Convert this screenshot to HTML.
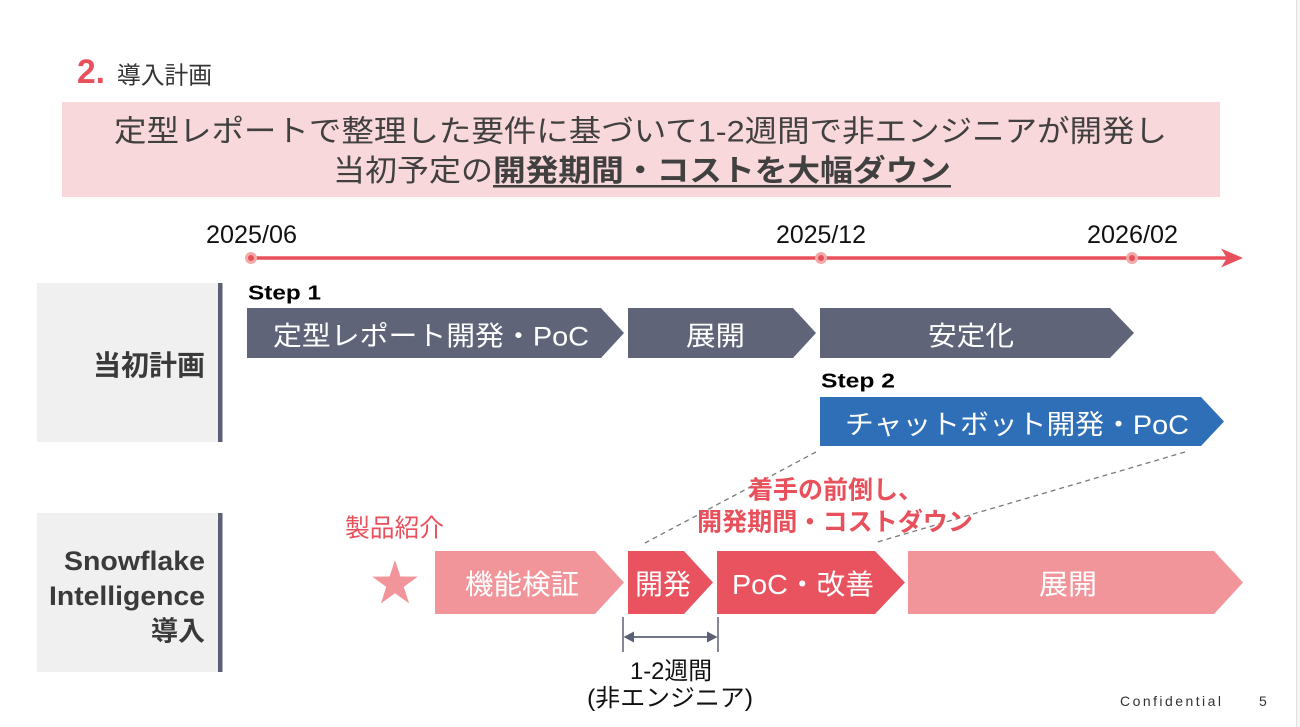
<!DOCTYPE html>
<html><head><meta charset="utf-8"><style>
html,body{margin:0;padding:0;background:#fff;}
svg{display:block;}
text{font-family:"Liberation Sans","Noto Sans CJK JP",sans-serif;}
</style></head><body>
<svg width="1300" height="727" viewBox="0 0 1300 727" xmlns="http://www.w3.org/2000/svg">
<rect x="0" y="0" width="1300" height="727" fill="#ffffff"/>
<rect x="1297" y="0" width="3" height="727" fill="#f4f4f4"/>
<line x1="1296.5" y1="0" x2="1296.5" y2="727" stroke="#e2e2e2" stroke-width="1"/>

<!-- Title -->
<text x="77" y="83" font-size="34" font-weight="bold" fill="#e8505b" textLength="28" lengthAdjust="spacingAndGlyphs">2.</text>
<text x="117" y="83.5" font-size="24" fill="#333" textLength="95" lengthAdjust="spacingAndGlyphs">導入計画</text>

<!-- Banner -->
<rect x="62" y="102" width="1158" height="95" fill="#f9d8db"/>
<text x="114" y="141.5" font-size="30" fill="#404040" textLength="1053" lengthAdjust="spacingAndGlyphs">定型レポートで整理した要件に基づいて1-2週間で非エンジニアが開発し</text>
<text x="333" y="181" font-size="30" fill="#404040" textLength="160" lengthAdjust="spacingAndGlyphs">当初予定の</text>
<text x="493" y="181" font-size="30" font-weight="bold" fill="#404040" textLength="458" lengthAdjust="spacingAndGlyphs">開発期間・コストを大幅ダウン</text>
<rect x="493" y="185" width="458" height="2.5" fill="#404040"/>

<!-- Timeline -->
<text x="206" y="243" font-size="25" fill="#111" textLength="91" lengthAdjust="spacingAndGlyphs">2025/06</text>
<text x="776" y="243" font-size="25" fill="#111" textLength="90" lengthAdjust="spacingAndGlyphs">2025/12</text>
<text x="1087" y="243" font-size="25" fill="#111" textLength="91" lengthAdjust="spacingAndGlyphs">2026/02</text>
<line x1="251" y1="258" x2="1232" y2="258" stroke="#e8505b" stroke-width="3.5"/>
<polygon points="1243,258 1221,248.5 1227,258 1221,267.5" fill="#e8505b"/>
<circle cx="251" cy="258" r="6" fill="#f2aaa6"/><circle cx="251" cy="258" r="3" fill="#e8505b"/>
<circle cx="821" cy="258" r="6" fill="#f2aaa6"/><circle cx="821" cy="258" r="3" fill="#e8505b"/>
<circle cx="1132" cy="258" r="6" fill="#f2aaa6"/><circle cx="1132" cy="258" r="3" fill="#e8505b"/>

<!-- Row 1 label -->
<rect x="37" y="283" width="181" height="159" fill="#f0f0f0"/>
<rect x="218" y="283" width="4.5" height="159" fill="#5b6076"/>
<text x="205" y="375" font-size="28" font-weight="bold" fill="#3a3a3a" text-anchor="end">当初計画</text>

<!-- Step 1 -->
<text x="248" y="299.5" font-size="20" font-weight="bold" fill="#000" textLength="73" lengthAdjust="spacingAndGlyphs">Step 1</text>
<polygon points="247,308 601,308 624,333 601,358 247,358" fill="#5f6479"/>
<polygon points="628,308 793,308 816,333 793,358 628,358" fill="#5f6479"/>
<polygon points="820,308 1110,308 1134,333 1110,358 820,358" fill="#5f6479"/>
<text x="273" y="345.5" font-size="27" fill="#fff" textLength="316" lengthAdjust="spacingAndGlyphs">定型レポート開発・PoC</text>
<text x="686" y="345.5" font-size="27" fill="#fff" textLength="59" lengthAdjust="spacingAndGlyphs">展開</text>
<text x="928" y="345.5" font-size="27" fill="#fff" textLength="86" lengthAdjust="spacingAndGlyphs">安定化</text>

<!-- Step 2 -->
<text x="821" y="387.5" font-size="20" font-weight="bold" fill="#000" textLength="74" lengthAdjust="spacingAndGlyphs">Step 2</text>
<polygon points="820,397 1201,397 1224,421.5 1201,446 820,446" fill="#2e6fb8"/>
<text x="845" y="434" font-size="27" fill="#fff" textLength="344" lengthAdjust="spacingAndGlyphs">チャットボット開発・PoC</text>

<!-- Dashed connectors -->
<line x1="816" y1="452" x2="645" y2="543" stroke="#7a7a7a" stroke-width="1.3" stroke-dasharray="5,4"/>
<line x1="1185" y1="452" x2="874" y2="543" stroke="#7a7a7a" stroke-width="1.3" stroke-dasharray="5,4"/>

<!-- Annotation -->
<text x="748" y="498.5" font-size="25" font-weight="bold" fill="#e8505b" textLength="175" lengthAdjust="spacingAndGlyphs">着手の前倒し、</text>
<text x="697" y="530.5" font-size="25" font-weight="bold" fill="#e8505b" textLength="276" lengthAdjust="spacingAndGlyphs">開発期間・コストダウン</text>

<!-- Row 2 label -->
<rect x="37" y="513" width="181" height="159" fill="#f0f0f0"/>
<rect x="218" y="513" width="4.5" height="159" fill="#5b6076"/>
<text x="64" y="570" font-size="27" font-weight="bold" fill="#3a3a3a" textLength="141" lengthAdjust="spacingAndGlyphs">Snowflake</text>
<text x="49" y="605" font-size="27" font-weight="bold" fill="#3a3a3a" textLength="156" lengthAdjust="spacingAndGlyphs">Intelligence</text>
<text x="205" y="640.5" font-size="27" font-weight="bold" fill="#3a3a3a" text-anchor="end">導入</text>

<!-- 製品紹介 + star -->
<text x="345" y="536.5" font-size="25" fill="#e8505b" textLength="99" lengthAdjust="spacingAndGlyphs">製品紹介</text>
<polygon points="395,560 400.41,576.56 417.83,576.58 403.75,586.84 409.11,603.42 395,593.2 380.89,603.42 386.25,586.84 372.17,576.58 389.59,576.56" fill="#f1959b"/>

<!-- Row 2 arrows -->
<polygon points="435,551 595,551 624,582.5 595,614 435,614" fill="#f1959b"/>
<polygon points="628,551 684,551 713,582.5 684,614 628,614" fill="#e9535f"/>
<polygon points="717,551 875,551 905,582.5 875,614 717,614" fill="#e9535f"/>
<polygon points="908,551 1214,551 1243,582.5 1214,614 908,614" fill="#f1959b"/>
<text x="465" y="594" font-size="28" fill="#fff" textLength="114" lengthAdjust="spacingAndGlyphs">機能検証</text>
<text x="635" y="594" font-size="28" fill="#fff" textLength="56" lengthAdjust="spacingAndGlyphs">開発</text>
<text x="732" y="594" font-size="28" fill="#fff" textLength="142" lengthAdjust="spacingAndGlyphs">PoC・改善</text>
<text x="1039" y="594" font-size="28" fill="#fff" textLength="58" lengthAdjust="spacingAndGlyphs">展開</text>

<!-- Dimension -->
<line x1="623" y1="617" x2="623" y2="652" stroke="#5b6076" stroke-width="1.5"/>
<line x1="718" y1="617" x2="718" y2="652" stroke="#5b6076" stroke-width="1.5"/>
<line x1="628" y1="637" x2="713" y2="637" stroke="#5b6076" stroke-width="1.8"/>
<polygon points="623.5,637 634,631.5 634,642.5" fill="#5b6076"/>
<polygon points="717.5,637 707,631.5 707,642.5" fill="#5b6076"/>
<text x="630" y="679" font-size="24" fill="#111" textLength="82" lengthAdjust="spacingAndGlyphs">1-2週間</text>
<text x="587" y="706" font-size="24" fill="#111" textLength="166" lengthAdjust="spacingAndGlyphs">(非エンジニア)</text>

<!-- Footer -->
<text x="1120" y="706" font-size="14" fill="#333" textLength="101" lengthAdjust="spacing">Confidential</text>
<text x="1259" y="706" font-size="14" fill="#333">5</text>
</svg>
</body></html>
